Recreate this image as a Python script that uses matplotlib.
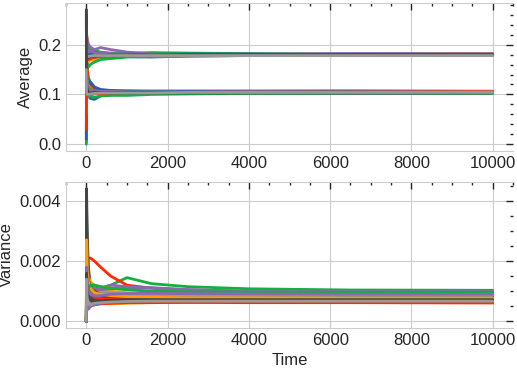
import numpy as np
import matplotlib
matplotlib.use('Agg')
import matplotlib.pyplot as plt
import seaborn as sns
from matplotlib.ticker import MultipleLocator

# ── data (checkpoints only) ──────────────────────────────────────────────────

TIME = [0, 5, 20, 50, 100, 200, 350, 600, 1000, 1600, 2500, 4000, 6500, 10000]

COLORS = ['#1f62b0', '#ff9c00', '#12b03c', '#ff2a00', '#8c68b3', '#454545', '#9a9a9a']

# running average, one list of runs per colour (upper cluster ~0.18, lower ~0.105)
AVG_BLUE = [
    [0.27, 0.15, 0.19, 0.17, 0.175, 0.172, 0.176, 0.174, 0.176, 0.175, 0.177, 0.178, 0.179, 0.179],
    [0.05, 0.22, 0.16, 0.185, 0.18, 0.185, 0.182, 0.18, 0.181, 0.18, 0.181, 0.181, 0.180, 0.180],
    [0.24, 0.13, 0.115, 0.10, 0.092, 0.09, 0.097, 0.10, 0.103, 0.104, 0.105, 0.105, 0.105, 0.105],
    [0.01, 0.08, 0.12, 0.13, 0.125, 0.115, 0.11, 0.108, 0.107, 0.106, 0.106, 0.105, 0.105, 0.104],
]
AVG_ORANGE = [
    [0.10, 0.22, 0.215, 0.20, 0.19, 0.186, 0.184, 0.18, 0.178, 0.176, 0.178, 0.179, 0.181, 0.182],
    [0.20, 0.16, 0.17, 0.165, 0.17, 0.168, 0.172, 0.174, 0.177, 0.179, 0.18, 0.18, 0.18, 0.181],
    [0.19, 0.12, 0.11, 0.115, 0.113, 0.11, 0.108, 0.107, 0.106, 0.106, 0.106, 0.106, 0.107, 0.107],
    [0.06, 0.14, 0.12, 0.105, 0.10, 0.102, 0.103, 0.104, 0.104, 0.104, 0.104, 0.104, 0.104, 0.104],
]
AVG_GREEN = [
    [0.0, 0.18, 0.20, 0.195, 0.19, 0.188, 0.185, 0.183, 0.183, 0.184, 0.183, 0.182, 0.181, 0.181],
    [0.15, 0.12, 0.15, 0.155, 0.16, 0.165, 0.17, 0.172, 0.175, 0.176, 0.177, 0.178, 0.178, 0.179],
    [0.005, 0.10, 0.10, 0.095, 0.096, 0.094, 0.097, 0.098, 0.098, 0.10, 0.101, 0.102, 0.102, 0.102],
    [0.17, 0.15, 0.125, 0.115, 0.11, 0.107, 0.106, 0.106, 0.105, 0.105, 0.104, 0.104, 0.104, 0.103],
]
AVG_RED = [
    [0.25, 0.19, 0.18, 0.185, 0.18, 0.178, 0.18, 0.179, 0.18, 0.179, 0.179, 0.18, 0.18, 0.180],
    [0.12, 0.17, 0.175, 0.17, 0.172, 0.175, 0.176, 0.177, 0.178, 0.178, 0.179, 0.179, 0.179, 0.179],
    [0.20, 0.16, 0.15, 0.135, 0.12, 0.112, 0.108, 0.107, 0.107, 0.107, 0.107, 0.107, 0.107, 0.106],
    [0.03, 0.11, 0.105, 0.10, 0.10, 0.101, 0.102, 0.103, 0.104, 0.104, 0.104, 0.104, 0.104, 0.104],
]
AVG_PURPLE = [
    [0.02, 0.22, 0.21, 0.20, 0.195, 0.19, 0.194, 0.19, 0.185, 0.181, 0.18, 0.181, 0.182, 0.182],
    [0.23, 0.20, 0.19, 0.185, 0.188, 0.184, 0.183, 0.182, 0.18, 0.179, 0.18, 0.18, 0.181, 0.181],
    [0.02, 0.09, 0.095, 0.10, 0.102, 0.104, 0.105, 0.105, 0.105, 0.105, 0.104, 0.104, 0.103, 0.103],
    [0.21, 0.14, 0.12, 0.11, 0.108, 0.107, 0.106, 0.106, 0.105, 0.105, 0.105, 0.105, 0.104, 0.104],
]
AVG_DARK = [
    [0.27, 0.17, 0.18, 0.178, 0.177, 0.176, 0.177, 0.178, 0.178, 0.178, 0.178, 0.179, 0.179, 0.179],
    [0.08, 0.18, 0.172, 0.174, 0.176, 0.177, 0.178, 0.179, 0.179, 0.179, 0.18, 0.18, 0.18, 0.180],
    [0.11, 0.11, 0.105, 0.103, 0.102, 0.102, 0.103, 0.103, 0.103, 0.103, 0.103, 0.103, 0.103, 0.103],
    [0.26, 0.12, 0.11, 0.104, 0.103, 0.104, 0.104, 0.104, 0.104, 0.104, 0.104, 0.104, 0.104, 0.104],
]
AVG_GRAY = [
    [0.03, 0.16, 0.17, 0.172, 0.174, 0.175, 0.176, 0.176, 0.177, 0.177, 0.178, 0.178, 0.178, 0.178],
    [0.18, 0.18, 0.176, 0.176, 0.177, 0.178, 0.178, 0.178, 0.178, 0.178, 0.178, 0.178, 0.178, 0.178],
    [0.01, 0.10, 0.104, 0.105, 0.105, 0.105, 0.105, 0.105, 0.105, 0.105, 0.105, 0.105, 0.105, 0.105],
    [0.15, 0.105, 0.10, 0.10, 0.101, 0.102, 0.103, 0.103, 0.103, 0.103, 0.104, 0.104, 0.104, 0.104],
]

# running variance, one list of runs per colour
VAR_BLUE = [
    [0, 0.0039, 0.0025, 0.0015, 0.0011, 0.0009, 0.00085, 0.0008, 0.00078, 0.00078, 0.00076, 0.00075, 0.00075, 0.00074],
    [0, 0.0012, 0.0009, 0.0007, 0.0006, 0.00058, 0.0006, 0.00062, 0.00063, 0.00064, 0.00064, 0.00065, 0.00065, 0.00065],
    [0, 0.0030, 0.0019, 0.0013, 0.0010, 0.0008, 0.0007, 0.00072, 0.00075, 0.00078, 0.0008, 0.0008, 0.0008, 0.0008],
    [0, 0.0024, 0.0014, 0.0009, 0.0007, 0.0006, 0.00062, 0.00066, 0.0007, 0.00072, 0.00072, 0.00072, 0.00072, 0.00072],
]
VAR_ORANGE = [
    [0, 0.0034, 0.0022, 0.0014, 0.0012, 0.0011, 0.0010, 0.0010, 0.00095, 0.0009, 0.00088, 0.00088, 0.00088, 0.00088],
    [0, 0.0009, 0.0006, 0.00045, 0.0005, 0.00055, 0.0006, 0.00058, 0.0006, 0.00062, 0.00062, 0.00062, 0.00062, 0.00062],
    [0, 0.0031, 0.0020, 0.0015, 0.0013, 0.0012, 0.00115, 0.0011, 0.00105, 0.0010, 0.00095, 0.0009, 0.0009, 0.0009],
    [0, 0.0027, 0.0017, 0.0013, 0.0011, 0.00095, 0.0009, 0.00085, 0.00082, 0.0008, 0.00078, 0.00078, 0.00077, 0.00077],
]
VAR_GREEN = [
    [0, 0.0021, 0.0018, 0.0014, 0.0012, 0.0011, 0.0011, 0.0012, 0.00145, 0.00125, 0.00115, 0.00108, 0.00104, 0.00103],
    [0, 0.0015, 0.0011, 0.0009, 0.0008, 0.00075, 0.0007, 0.00072, 0.00075, 0.00078, 0.0008, 0.0008, 0.0008, 0.0008],
    [0, 0.0020, 0.0015, 0.0011, 0.0010, 0.00095, 0.0009, 0.0009, 0.00088, 0.00087, 0.00086, 0.00085, 0.00085, 0.00085],
    [0, 0.0013, 0.0010, 0.0011, 0.0012, 0.0012, 0.00115, 0.0011, 0.00105, 0.0010, 0.00098, 0.00097, 0.00097, 0.00097],
]
VAR_RED = [
    [0, 0.0017, 0.0020, 0.0021, 0.0021, 0.0020, 0.0018, 0.0015, 0.0012, 0.0011, 0.0010, 0.00092, 0.00088, 0.00086],
    [0, 0.0008, 0.0007, 0.0006, 0.00058, 0.00055, 0.00058, 0.0006, 0.00062, 0.00062, 0.00063, 0.00062, 0.00062, 0.00061],
    [0, 0.0019, 0.0013, 0.0010, 0.0009, 0.0008, 0.00075, 0.00073, 0.00072, 0.00072, 0.00073, 0.00074, 0.00075, 0.00075],
    [0, 0.0011, 0.0009, 0.0008, 0.0007, 0.00065, 0.00065, 0.00066, 0.00066, 0.00066, 0.00066, 0.00066, 0.00066, 0.00066],
]
VAR_PURPLE = [
    [0, 0.0028, 0.0016, 0.0011, 0.0010, 0.0010, 0.0011, 0.0012, 0.00115, 0.0011, 0.00105, 0.0010, 0.00098, 0.00097],
    [0, 0.0006, 0.0005, 0.0004, 0.0005, 0.00055, 0.0006, 0.00065, 0.00068, 0.0007, 0.0007, 0.0007, 0.0007, 0.0007],
    [0, 0.0022, 0.0014, 0.0012, 0.0011, 0.0011, 0.00105, 0.00108, 0.0011, 0.00112, 0.00105, 0.0010, 0.00099, 0.00099],
    [0, 0.0018, 0.0012, 0.0010, 0.0009, 0.00085, 0.00085, 0.0009, 0.00092, 0.00093, 0.00092, 0.00091, 0.0009, 0.0009],
]
VAR_DARK = [
    [0, 0.0044, 0.0030, 0.0018, 0.0012, 0.0009, 0.0008, 0.0008, 0.0007, 0.0007, 0.00068, 0.00066, 0.00066, 0.00066],
    [0, 0.0025, 0.0015, 0.0010, 0.0008, 0.0007, 0.00072, 0.0007, 0.0007, 0.00068, 0.00067, 0.00067, 0.00067, 0.00067],
    [0, 0.0035, 0.0022, 0.0014, 0.0011, 0.0010, 0.0009, 0.00085, 0.00083, 0.00082, 0.00082, 0.00082, 0.00082, 0.00082],
    [0, 0.0016, 0.0010, 0.0008, 0.0007, 0.00068, 0.00068, 0.0007, 0.00072, 0.00072, 0.00072, 0.00072, 0.00072, 0.00072],
]
VAR_GRAY = [
    [0, 0.0030, 0.0012, 0.0009, 0.0008, 0.0009, 0.0010, 0.00095, 0.00092, 0.0009, 0.00095, 0.00096, 0.00096, 0.00096],
    [0, 0.0020, 0.0010, 0.0007, 0.0006, 0.00065, 0.00068, 0.0007, 0.00068, 0.00067, 0.00067, 0.00067, 0.00067, 0.00067],
    [0, 0.0027, 0.0016, 0.0012, 0.0011, 0.00095, 0.0009, 0.00088, 0.00087, 0.00086, 0.00086, 0.00086, 0.00086, 0.00086],
    [0, 0.0014, 0.0008, 0.0006, 0.00055, 0.0006, 0.00062, 0.00064, 0.00066, 0.00067, 0.00067, 0.00067, 0.00067, 0.00067],
]

AVG_RUNS = [AVG_BLUE, AVG_ORANGE, AVG_GREEN, AVG_RED, AVG_PURPLE, AVG_DARK, AVG_GRAY]
VAR_RUNS = [VAR_BLUE, VAR_ORANGE, VAR_GREEN, VAR_RED, VAR_PURPLE, VAR_DARK, VAR_GRAY]

# ── plot ──────────────────────────────────────────────────────────────────────

sns.set_style('whitegrid')
plt.rcParams['font.family'] = ['Liberation Sans', 'DejaVu Sans']
plt.rcParams['font.size'] = 12


def draw(ax, runs):
    # interleave colours so the grey runs end up on top, like the original
    for i in range(len(runs[0])):
        for color, group in zip(COLORS, runs):
            ax.plot(TIME, group[i], color=color, linewidth=2.0)


fig = plt.figure(figsize=(5.17, 3.70), dpi=100)
ax1 = fig.add_axes([0.1277, 0.5919, 0.8646, 0.4000])
ax2 = fig.add_axes([0.1277, 0.1135, 0.8646, 0.3946], sharex=ax1)

draw(ax1, AVG_RUNS)
draw(ax2, VAR_RUNS)

ax1.set_ylabel('Average', fontsize=12)
ax2.set_ylabel('Variance', fontsize=12)
ax2.set_xlabel('Time', fontsize=12)

ax1.set_yticks([0.0, 0.1, 0.2])
ax2.set_yticks([0.0, 0.002, 0.004])
ax1.yaxis.set_minor_locator(MultipleLocator(0.02))
ax2.yaxis.set_minor_locator(MultipleLocator(0.0005))

for ax in (ax1, ax2):
    ax.set_xticks([0, 2000, 4000, 6000, 8000, 10000])
    ax.xaxis.set_minor_locator(MultipleLocator(500))
    ax.spines['right'].set_visible(False)
    ax.tick_params(which='both', top=True, right=True, bottom=False, left=False,
                   direction='in', colors='0.15', labelsize=12)
    ax.tick_params(which='major', length=5, width=1)
    ax.tick_params(which='minor', length=2.5, width=1)
    ax.grid(which='minor', visible=False)

ax1.tick_params(axis='x', labelbottom=True)

fig.savefig('out.png', dpi=100)
plt.close(fig)
